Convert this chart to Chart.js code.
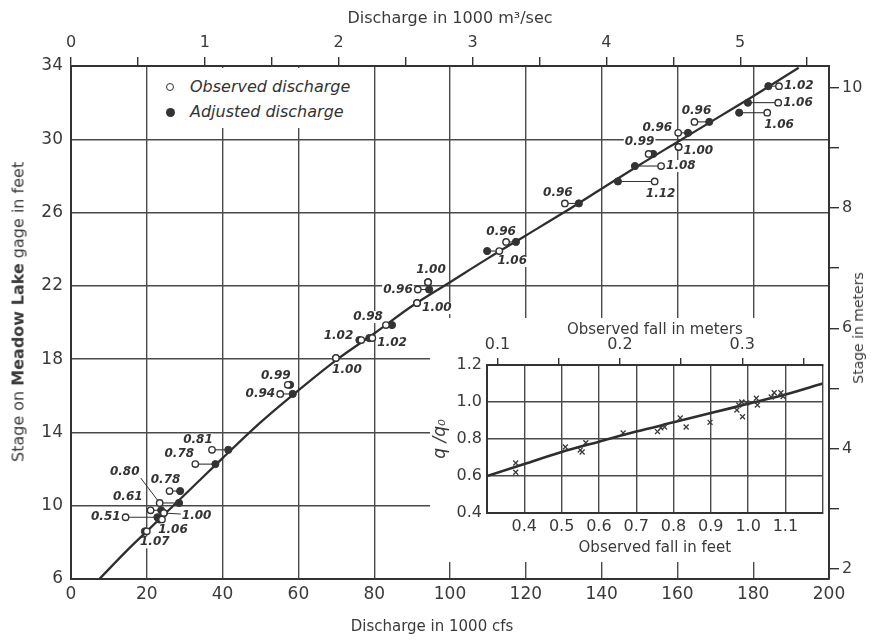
<!DOCTYPE html>
<html>
<head>
<meta charset="utf-8">
<script src="https://cdn.jsdelivr.net/npm/chart.js@4.4.1/dist/chart.umd.min.js"></script>
<style>
html,body{margin:0;padding:0;background:#fff;}
#wrap{position:relative;width:875px;height:640px;overflow:hidden;font-family:'DejaVu Sans',sans-serif;color:#3a3a3a;}
#main{position:absolute;left:0;top:0;}
#insetBox{position:absolute;left:430px;top:318px;width:398px;height:244px;background:#fff;}
#inset{position:absolute;left:0;top:0;}
#legend{position:absolute;left:150px;top:68px;width:221px;height:60px;background:#fff;}
.lgItem{position:absolute;left:40px;font-style:italic;font-size:16px;line-height:18px;white-space:nowrap;color:#333;}
.mk{position:absolute;border-radius:50%;box-sizing:border-box;}
.vtitle{position:absolute;white-space:nowrap;transform:translate(-50%,-50%) rotate(-90deg);color:#3a3a3a;}
.htitle{position:absolute;white-space:nowrap;transform:translate(-50%,-50%);color:#3a3a3a;}
</style>
</head>
<body>
<div id="wrap">
  <canvas id="main" width="875" height="640"></canvas>
  <div id="legend">
    <div class="mk" style="left:16px;top:15px;width:8px;height:8px;border:1.5px solid #333;background:#fff;"></div>
    <div class="lgItem" style="top:10px;">Observed discharge</div>
    <div class="mk" style="left:15.5px;top:39.5px;width:9px;height:9px;background:#333;"></div>
    <div class="lgItem" style="top:35px;">Adjusted discharge</div>
  </div>
  <div id="insetBox"><canvas id="inset" width="398" height="244"></canvas></div>
  <div class="vtitle" style="left:18px;top:312px;font-size:16px;">Stage on <b>Meadow Lake</b> gage in feet</div>
  <div class="vtitle" style="left:858px;top:328px;font-size:14px;">Stage in meters</div>
  <div class="htitle" style="left:432px;top:626px;font-size:15px;">Discharge in 1000 cfs</div>
</div>
<script>
// ---------------- Main chart data ----------------
// rating curve (discharge in 1000 cfs, stage in feet)
const curveDischarge = [7.5, 15, 20, 25, 30, 40, 50, 60, 70, 80, 90, 100, 110, 120, 130, 140, 150, 160, 170, 180, 192];
const curveStage     = [6.0, 7.6, 8.6, 9.6, 10.6, 12.6, 14.55, 16.3, 17.95, 19.4, 20.9, 22.2, 23.5, 24.75, 26.0, 27.3, 28.6, 29.85, 31.1, 32.35, 33.9];

// measurements: stage (ft), observed and adjusted discharge (1000 cfs), fall ratio label
const pointStage = [32.9, 32.0, 31.45, 30.95, 30.35, 29.2, 29.58, 28.54, 27.7, 26.5, 24.4, 23.9, 22.2, 21.8, 21.06,
                    19.86, 19.15, 19.04, 18.06, 16.6, 16.1, 13.05, 12.27, 10.15, 10.8, 9.75, 9.37, 9.6, 9.25, 8.6];
const observedDischarge = [186.8, 186.6, 183.7, 164.5, 160.2, 152.4, 160.3, 155.7, 154.0, 130.3, 114.8, 113.0, 94.2, 91.5, 91.3,
                    83.1, 79.5, 76.6, 69.9, 57.2, 55.2, 37.2, 32.8, 23.4, 26.0, 21.0, 14.4, 24.5, 24.0, 20.0];
const adjustedDischarge = [184.0, 178.6, 176.3, 168.4, 162.8, 153.6, 160.3, 148.8, 144.3, 134.0, 117.4, 109.8, 94.2, 94.5, 91.3,
                    84.7, 78.7, 76.1, 69.9, 57.8, 58.5, 41.5, 38.1, 28.5, 28.8, 23.8, 22.8, 24.5, 23.3, 19.5];
const ratioLabels = ['1.02','1.06','1.06','0.96','0.96','0.99','1.00','1.08','1.12','0.96','0.96','1.06','1.00','0.96','1.00',
                    '0.98','1.02','1.02','1.00','0.99','0.94','0.81','0.78','0.80','0.78','0.61','0.51','1.00','1.06','1.07'];

// axis tick settings
const cfsTicks = {min: 0, max: 200, step: 20};
const stageTicks = {min: 6, max: 34, step: 4};

// ---------------- Inset data ----------------
const insetFallFt   = [0.3, 0.4, 0.5, 0.6, 0.7, 0.8, 0.9, 1.0, 1.1, 1.2];
const insetRatio    = [0.6, 0.665, 0.73, 0.785, 0.84, 0.89, 0.94, 0.99, 1.04, 1.1];
const measuredFall  = [0.377, 0.377, 0.51, 0.55, 0.565, 0.555, 0.665, 0.757, 0.766, 0.776, 0.818, 0.834, 0.898,
                       0.97, 0.975, 0.983, 0.985, 0.996, 1.022, 1.025, 1.062, 1.07, 1.088, 1.094];
const measuredRatio = [0.67, 0.62, 0.757, 0.74, 0.78, 0.73, 0.833, 0.84, 0.86, 0.865, 0.914, 0.865, 0.89,
                       0.957, 0.984, 1.0, 0.92, 0.995, 1.02, 0.984, 1.027, 1.05, 1.05, 1.03];

// unit conversions
const CFS_PER_CMS = 35.3147;
const FT_PER_M = 3.28084;

// label placement (pixel offsets from observed point): [dx, dy, align, leaderDx, leaderDy]
const labelPlacement = [
  [5,0,'left'],[5,0,'left'],[-3,12,'left'],[2,-11,'center'],[-6,-5,'right'],[-9,-12,'center'],[5,4,'left'],
  [5,0,'left'],[6,12,'center'],[-7,-11,'center'],[-5,-10,'center'],[13,10,'center'],[3,-12,'center'],[-5,0,'right'],
  [5,5,'left'],[-3,-8,'right'],[5,5,'left'],[-8,-4,'right'],[11,12,'center'],[-12,-9,'center'],[-5,0,'right'],
  [-14,-10,'center'],[-16,-10,'center'],[-35,-31,'center',-19,-25],[-4,-11,'center'],[-8,-13,'right'],[-5,0,'right'],
  [18,3,'left',17,1],[11,10,'center'],[8,11,'center']
];

Chart.defaults.font.family = "'DejaVu Sans', sans-serif";
Chart.defaults.color = '#3a3a3a';
const ink = '#333';
const gridInk = '#4a4a4a';

// ---------- build main datasets ----------
const datasets = [];
datasets.push({label:'Observed discharge', data: observedDischarge.map((v,i)=>({x:v, y:pointStage[i]})),
  pointStyle:'circle', pointRadius:3.2, pointBackgroundColor:'#fff', pointBorderColor:ink, pointBorderWidth:1.4});
datasets.push({label:'Adjusted discharge', data: adjustedDischarge.map((v,i)=>({x:v, y:pointStage[i]})),
  pointStyle:'circle', pointRadius:3.6, pointBackgroundColor:ink, pointBorderColor:ink, pointBorderWidth:1});
for (let i = 0; i < pointStage.length; i++) {
  if (observedDischarge[i] === adjustedDischarge[i]) continue;
  datasets.push({label:'link', data:[{x:observedDischarge[i], y:pointStage[i]},{x:adjustedDischarge[i], y:pointStage[i]}],
    showLine:true, pointRadius:0, borderColor:ink, borderWidth:1.1});
}
datasets.push({label:'Rating curve', data: curveDischarge.map((v,i)=>({x:v, y:curveStage[i]})),
  showLine:true, pointRadius:0, borderColor:'#2e2e2e', borderWidth:2.3, cubicInterpolationMode:'monotone'});

const labelPlugin = {
  id:'ratioLabels',
  beforeDatasetsDraw(chart){
    const ctx = chart.ctx, xs = chart.scales.x, ys = chart.scales.y;
    ctx.save();
    ctx.font = "italic bold 12px 'DejaVu Sans'";
    ctx.textBaseline = 'middle';
    for (let i = 0; i < ratioLabels.length; i++) {
      const p = labelPlacement[i];
      const px = xs.getPixelForValue(observedDischarge[i]);
      const py = ys.getPixelForValue(pointStage[i]);
      const tx = px + p[0], ty = py + p[1];
      const w = ctx.measureText(ratioLabels[i]).width;
      let left = tx;
      if (p[2] === 'center') left = tx - w/2;
      if (p[2] === 'right') left = tx - w;
      ctx.fillStyle = '#fff';
      ctx.fillRect(left - 1, ty - 6, w + 2, 12);
      ctx.fillStyle = '#333';
      ctx.textAlign = p[2];
      ctx.fillText(ratioLabels[i], tx, ty);
      if (p.length > 3) {
        ctx.strokeStyle = ink; ctx.lineWidth = 1;
        ctx.beginPath(); ctx.moveTo(px, py); ctx.lineTo(px + p[3], py + p[4]); ctx.stroke();
      }
    }
    ctx.restore();
  }
};

new Chart(document.getElementById('main'), {
  type:'scatter',
  data:{datasets},
  plugins:[labelPlugin],
  options:{
    responsive:false, animation:false, events:[],
    layout:{padding:0},
    plugins:{legend:{display:false}, tooltip:{enabled:false}},
    scales:{
      x:{type:'linear', position:'bottom', min:cfsTicks.min, max:cfsTicks.max,
        afterFit(s){ s.height = 61; },
        ticks:{stepSize:cfsTicks.step, padding:5, maxRotation:0, autoSkip:false, font:{size:17}},
        grid:{color:gridInk, lineWidth:1.4, drawTicks:false},
        border:{color:ink, width:2}},
      xTop:{type:'linear', position:'top', min:cfsTicks.min/CFS_PER_CMS, max:cfsTicks.max/CFS_PER_CMS,
        afterFit(s){ s.height = 66; },
        ticks:{stepSize:0.5, includeBounds:false, autoSkip:false, maxRotation:0, padding:5, font:{size:16},
          callback:v => Number.isInteger(v) ? String(v) : ''},
        grid:{drawOnChartArea:false, drawTicks:true, tickLength:9, color:ink, lineWidth:1.4},
        border:{color:ink, width:2},
        title:{display:true, text:'Discharge in 1000 m\u00B3/sec', font:{size:16}, padding:{top:9, bottom:0}}},
      y:{type:'linear', position:'left', min:stageTicks.min, max:stageTicks.max,
        afterFit(s){ s.width = 71; },
        ticks:{stepSize:stageTicks.step, padding:8, font:{size:17}},
        grid:{color:gridInk, lineWidth:1.4, drawTicks:false},
        border:{color:ink, width:2}},
      yRight:{type:'linear', position:'right', min:stageTicks.min/FT_PER_M, max:stageTicks.max/FT_PER_M,
        afterFit(s){ s.width = 46; },
        ticks:{stepSize:1, includeBounds:false, autoSkip:false, padding:3, font:{size:16},
          callback:v => (Math.round(v) % 2 === 0) ? String(Math.round(v)) : ''},
        grid:{drawOnChartArea:false, drawTicks:true, tickLength:10, color:ink, lineWidth:1.4},
        border:{color:ink, width:2}}
    }
  }
});

// ---------- inset chart ----------
new Chart(document.getElementById('inset'), {
  type:'scatter',
  data:{datasets:[
    {label:'Measured', data: measuredFall.map((v,i)=>({x:v, y:measuredRatio[i]})),
      pointStyle:'crossRot', pointRadius:3.5, pointBorderColor:'#3a3a3a', pointBorderWidth:1.3},
    {label:'Relation', data: insetFallFt.map((v,i)=>({x:v, y:insetRatio[i]})),
      showLine:true, pointRadius:0, borderColor:'#2e2e2e', borderWidth:2.6, cubicInterpolationMode:'monotone'}
  ]},
  options:{
    responsive:false, animation:false, events:[],
    layout:{padding:0},
    plugins:{legend:{display:false}, tooltip:{enabled:false}},
    scales:{
      x:{type:'linear', position:'bottom', min:0.3, max:1.2,
        afterFit(s){ s.height = 49; },
        ticks:{stepSize:0.1, autoSkip:false, maxRotation:0, padding:4, font:{size:16},
          callback:v => { const r = Math.round(v*10)/10; return (r < 0.35 || r > 1.15) ? '' : r.toFixed(1); }},
        grid:{color:gridInk, lineWidth:1.4, drawTicks:false},
        border:{color:ink, width:2},
        title:{display:true, text:'Observed fall in feet', font:{size:15}, padding:{top:0, bottom:5}}},
      xTop:{type:'linear', position:'top', min:0.3/FT_PER_M, max:1.2/FT_PER_M,
        afterFit(s){ s.height = 47; },
        ticks:{stepSize:0.05, includeBounds:false, autoSkip:false, maxRotation:0, padding:4, font:{size:16},
          callback:v => { const r = Math.round(v*100); return (r % 10 === 0) ? (r/100).toFixed(1) : ''; }},
        grid:{drawOnChartArea:false, drawTicks:true, tickLength:7, color:ink, lineWidth:1.4},
        border:{color:ink, width:2},
        title:{display:true, text:'Observed fall in meters', font:{size:15}, padding:{top:3, bottom:0}}},
      y:{type:'linear', position:'left', min:0.4, max:1.2,
        afterFit(s){ s.width = 57; },
        ticks:{stepSize:0.2, padding:5, font:{size:16}, callback:v => v.toFixed(1)},
        grid:{color:gridInk, lineWidth:1.4, drawTicks:false},
        border:{color:ink, width:2},
        title:{display:true, text:'q /q\u2080', font:{size:17, style:'italic'}, padding:{top:0, bottom:0}}}
    }
  }
});
</script>
</body>
</html>
